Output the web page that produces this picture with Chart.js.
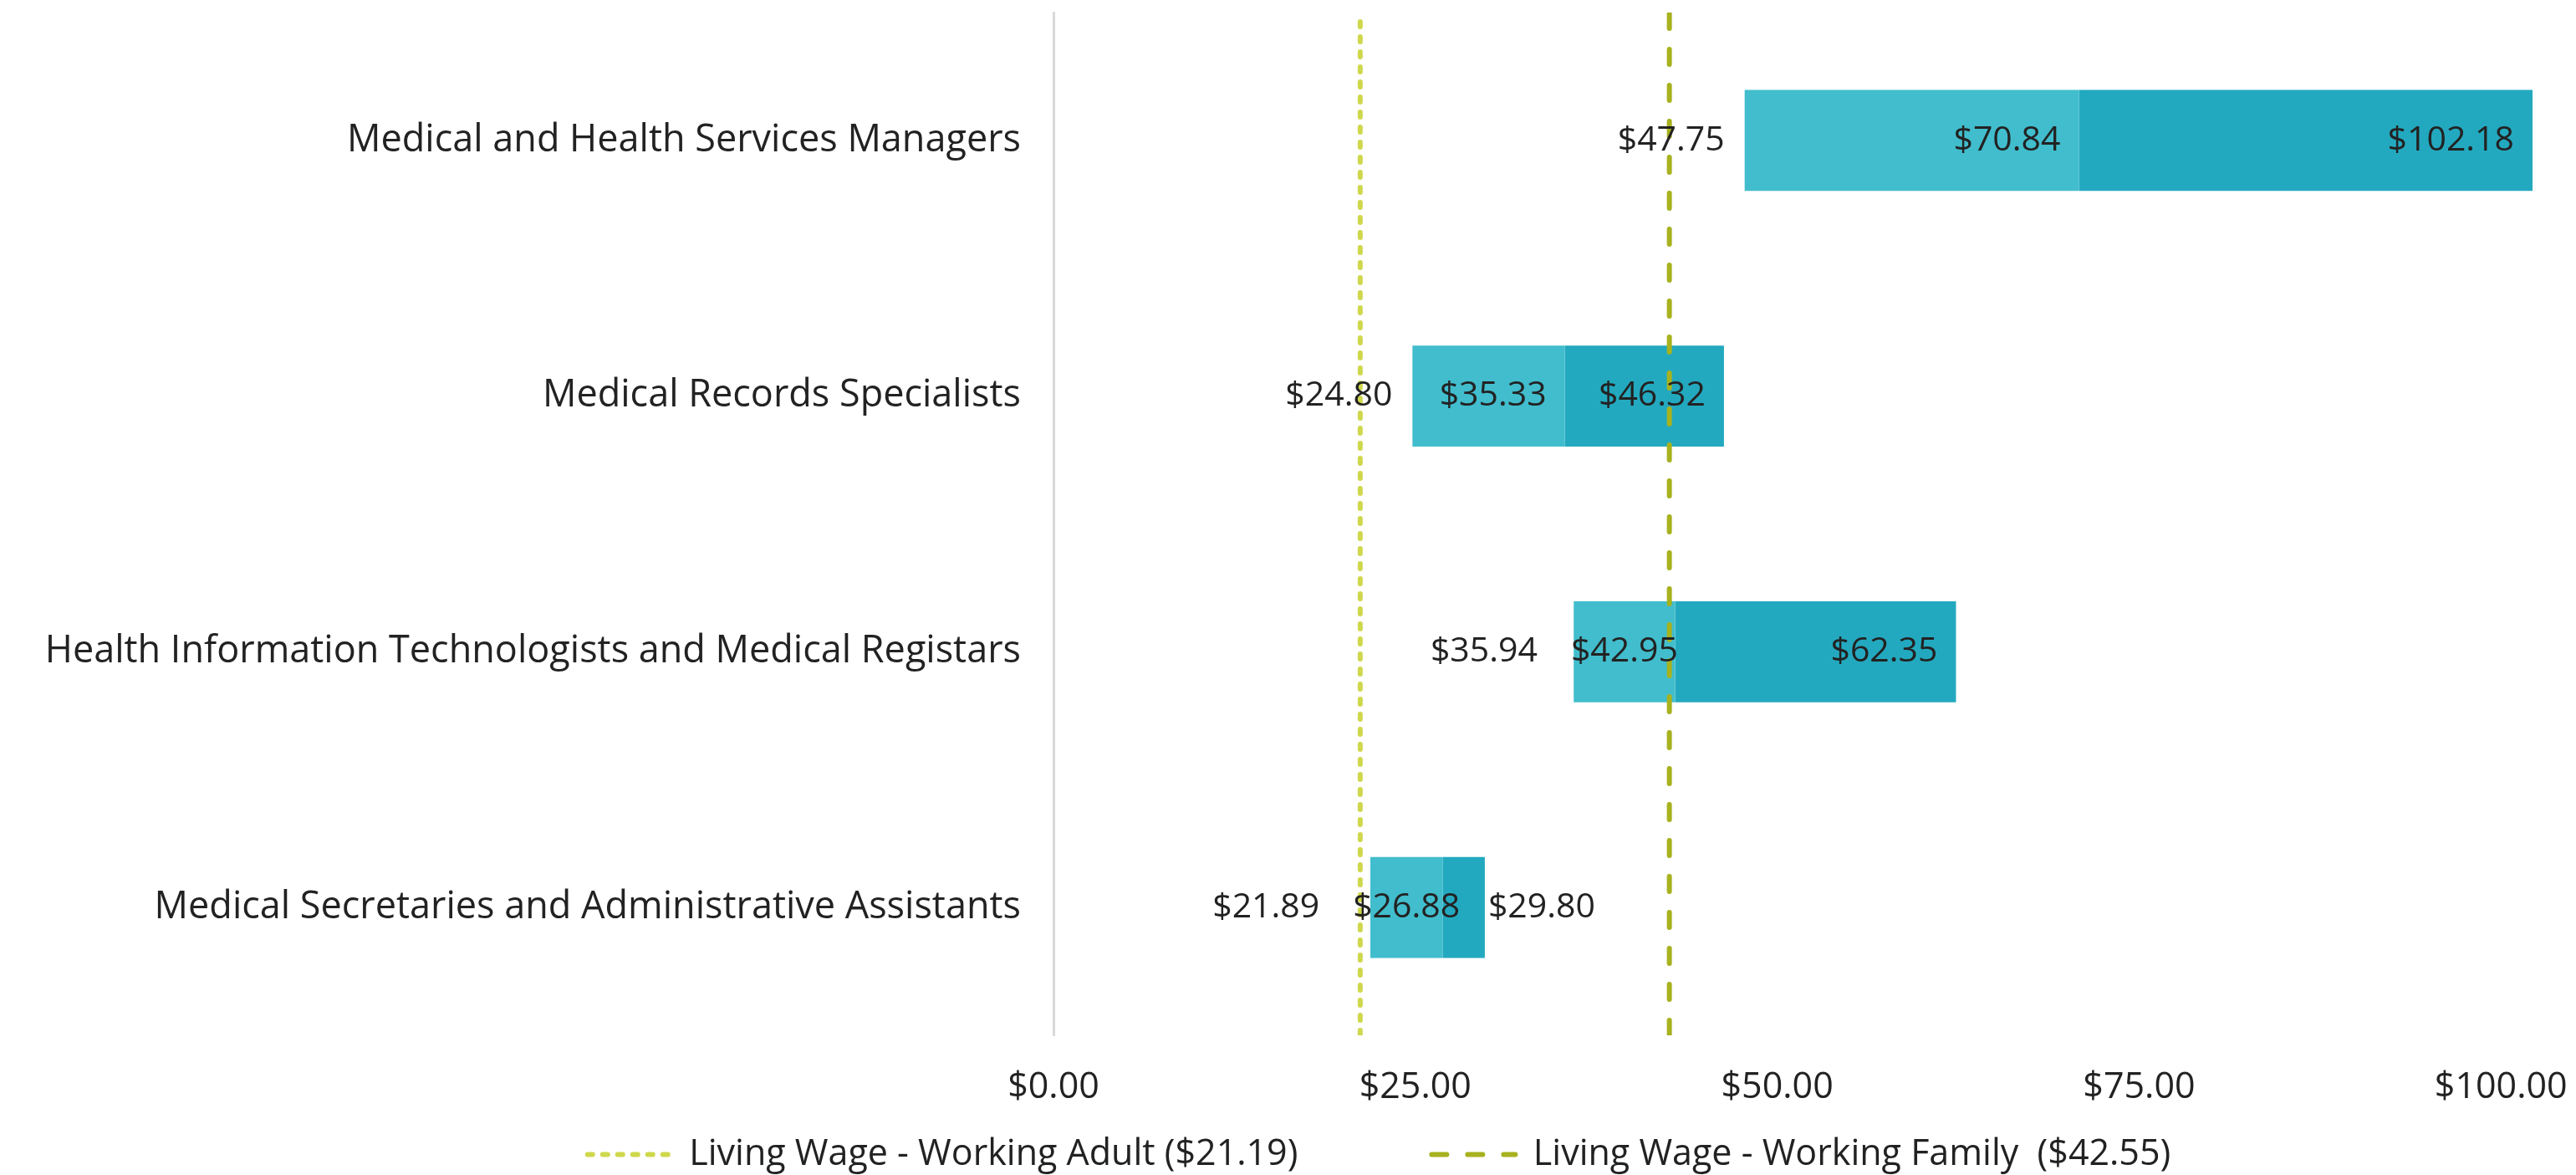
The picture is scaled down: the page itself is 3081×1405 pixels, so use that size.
<!DOCTYPE html>
<html>
<head>
<meta charset="utf-8">
<script src="https://cdn.jsdelivr.net/npm/chart.js@4/dist/chart.umd.min.js"></script>
<style>
  html, body { margin: 0; padding: 0; background: #fff; }
  #wrap { width: 3081px; height: 1405px; position: relative; }
</style>
</head>
<body>
<div id="wrap"><canvas id="wageChart"></canvas></div>
<script>
const categories = [
    'Medical and Health Services Managers',
    'Medical Records Specialists',
    'Health Information Technologists and Medical Registars',
    'Medical Secretaries and Administrative Assistants'
];
const lowWage = [47.75, 24.80, 35.94, 21.89];
const medianWage = [70.84, 35.33, 42.95, 26.88];
const highWage = [102.18, 46.32, 62.35, 29.80];

const xTicks = [0, 25, 50, 75, 100];

const adultWage = 21.19;
const familyWage = 42.55;
const adultLabel = 'Living Wage - Working Adult ($21.19)';
const familyLabel = 'Living Wage - Working Family  ($42.55)';

const FONT = "'Open Sans', 'DejaVu Sans', sans-serif";
const TEXT_COLOR = '#222222';
const money = v => '$' + v.toFixed(2);

// labels for low / median / high, drawn next to the bar segments
const valueLabels = {
    id: 'valueLabels',
    afterDatasetsDraw(chart) {
        const ctx = chart.ctx;
        const x = chart.scales.x;
        const y = chart.scales.y;
        const pad = 22;
        ctx.save();
        ctx.font = '41px ' + FONT;
        ctx.fillStyle = TEXT_COLOR;
        ctx.textBaseline = 'middle';
        categories.forEach((c, i) => {
            const yc = y.getPixelForValue(i);
            const xl = x.getPixelForValue(lowWage[i]);
            const xm = x.getPixelForValue(medianWage[i]);
            const xh = x.getPixelForValue(highWage[i]);

            // median
            const tm = money(medianWage[i]);
            const wm = ctx.measureText(tm).width;
            let medLeft;
            if (xm - xl >= wm + 2 * pad) {
                ctx.textAlign = 'right';
                ctx.fillText(tm, xm - pad, yc);
                medLeft = xm - pad - wm;
            } else {
                ctx.textAlign = 'center';
                ctx.fillText(tm, (xl + xm) / 2, yc);
                medLeft = (xl + xm) / 2 - wm / 2;
            }

            // high
            const th = money(highWage[i]);
            const wh = ctx.measureText(th).width;
            if (xh - xm >= wh + 2 * pad) {
                ctx.textAlign = 'right';
                ctx.fillText(th, xh - pad, yc);
            } else if (xh - xm >= wh) {
                ctx.textAlign = 'center';
                ctx.fillText(th, (xm + xh) / 2, yc);
            } else {
                ctx.textAlign = 'left';
                ctx.fillText(th, xh + 4, yc);
            }

            // low, outside the bar start
            ctx.textAlign = 'right';
            ctx.fillText(money(lowWage[i]), Math.min(xl - 24, medLeft - 40), yc);
        });
        ctx.restore();
    }
};

// move the legend: wider gap between items but same row height, centred further right
const legendShift = {
    id: 'legendShift',
    afterLayout(chart) {
        const lg = chart.legend;
        const p = chart.options.plugins.legend.labels.padding;
        lg.top -= p - 40;
        lg.left += 135;
        lg.right += 135;
    }
};

const barData = {
    labels: categories,
    datasets: [
        {
            label: 'Low to median',
            data: lowWage.map((v, i) => [v, medianWage[i]]),
            backgroundColor: '#41BDCD',
            grouped: false,
            barPercentage: 0.395,
            categoryPercentage: 1,
            order: 2
        },
        {
            label: 'Median to high',
            data: medianWage.map((v, i) => [v, highWage[i]]),
            backgroundColor: '#23A9BF',
            grouped: false,
            barPercentage: 0.395,
            categoryPercentage: 1,
            order: 2
        },
        {
            type: 'line',
            label: adultLabel,
            data: [{ x: adultWage, y: 0 }, { x: adultWage, y: 1 }],
            yAxisID: 'yLine',
            borderColor: '#CFD84C',
            borderWidth: 6,
            borderDash: [6, 12],
            borderCapStyle: 'round',
            pointRadius: 0,
            order: 1
        },
        {
            type: 'line',
            label: familyLabel,
            data: [{ x: familyWage, y: 0 }, { x: familyWage, y: 1 }],
            yAxisID: 'yLine',
            borderColor: '#A7B21F',
            borderWidth: 6,
            borderDash: [18, 25],
            borderCapStyle: 'round',
            pointRadius: 0,
            order: 1
        }
    ]
};

const config = {
    type: 'bar',
    data: barData,
    options: {
        indexAxis: 'y',
        responsive: true,
        maintainAspectRatio: false,
        animation: false,
        layout: { padding: { top: 15, right: 52, bottom: 0, left: 0 } },
        scales: {
            x: {
                type: 'linear',
                min: 0,
                max: 102.18,
                grid: { display: false },
                border: { display: false },
                afterFit: s => { s.height = 81; s.paddingLeft = 0; s.paddingRight = 0; },
                afterBuildTicks: s => { s.ticks = xTicks.map(v => ({ value: v })); },
                ticks: {
                    padding: 29,
                    color: TEXT_COLOR,
                    font: { family: FONT, size: 43 },
                    callback: v => money(v)
                }
            },
            y: {
                type: 'category',
                grid: { display: false, drawTicks: false },
                border: { display: true, color: '#D9D9D9', width: 3 },
                afterFit: s => { s.width = 1260; s.paddingTop = 0; s.paddingBottom = 0; },
                ticks: {
                    padding: 39,
                    color: TEXT_COLOR,
                    font: { family: FONT, size: 45 }
                }
            },
            yLine: {
                type: 'linear',
                min: 0,
                max: 1,
                offset: false,
                display: false
            }
        },
        plugins: {
            tooltip: { enabled: false },
            legend: {
                position: 'bottom',
                maxHeight: 86,
                labels: {
                    padding: 160,
                    color: TEXT_COLOR,
                    font: { family: FONT, size: 43 },
                    usePointStyle: true,
                    pointStyle: 'line',
                    pointStyleWidth: 100,
                    generateLabels: chart => chart.data.datasets
                        .map((ds, i) => ({
                            text: ds.label,
                            fillStyle: ds.borderColor,
                            strokeStyle: ds.borderColor,
                            lineWidth: ds.borderWidth,
                            lineDash: ds.borderDash,
                            lineCap: ds.borderCapStyle,
                            pointStyle: 'line',
                            fontColor: TEXT_COLOR,
                            hidden: false,
                            datasetIndex: i
                        }))
                        .filter(item => chart.data.datasets[item.datasetIndex].type === 'line')
                }
            }
        }
    },
    plugins: [valueLabels, legendShift]
};

new Chart(document.getElementById('wageChart'), config);
</script>
</body>
</html>
